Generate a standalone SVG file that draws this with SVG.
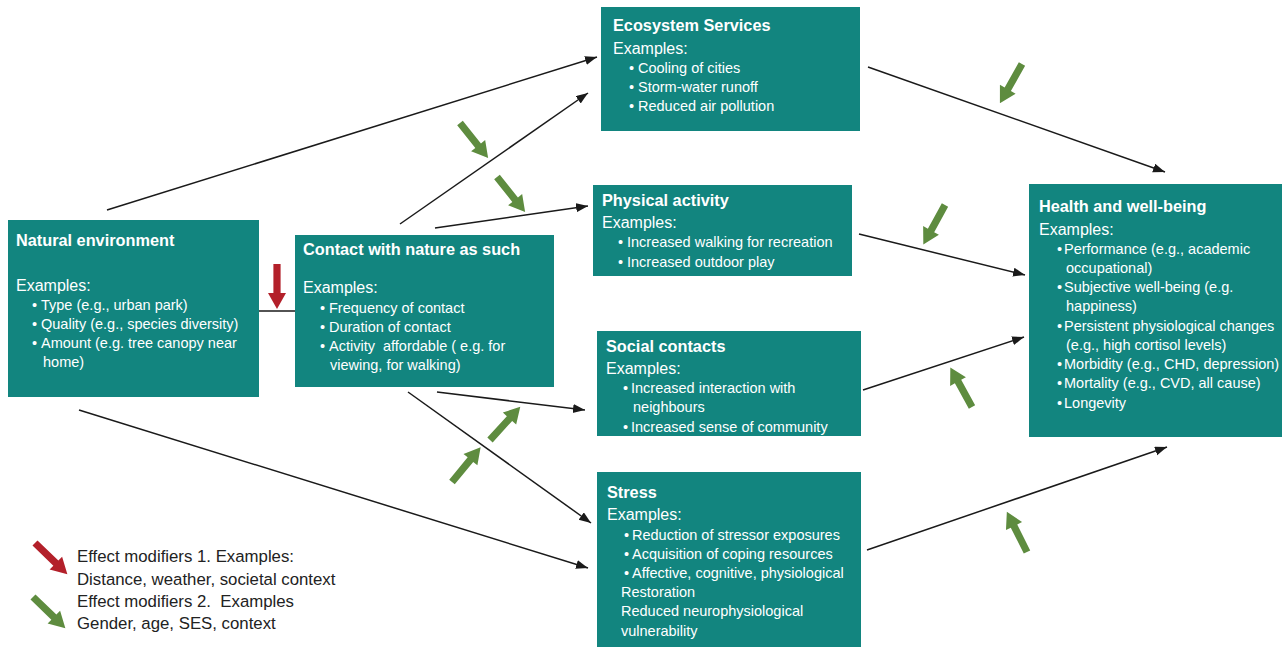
<svg xmlns="http://www.w3.org/2000/svg" width="1282" height="647" viewBox="0 0 1282 647">
<style>
.box{fill:#12857f;}
text{font-family:"Liberation Sans","Open Sans",Arial,sans-serif;fill:#ffffff;}
.t{font-size:16.3px;font-weight:bold;}
.e{font-size:16px;}
.b{font-size:14.5px;}
.lg{font-size:16.8px;fill:#222222;}
.c{stroke:#1a1a1a;stroke-width:1.5;fill:none;}
.ca{stroke:#1a1a1a;stroke-width:1.5;fill:none;marker-end:url(#ah);}
.g{fill:#5e8c3f;}
.r{fill:#b3202a;}
</style>
<defs>
<marker id="ah" markerUnits="userSpaceOnUse" markerWidth="13" markerHeight="10" refX="12" refY="4.5" orient="auto">
<path d="M0,0 L12,4.5 L0,9 z" fill="#1a1a1a"/>
</marker>
<path id="mod" d="M0,-3.6 L29,-3.6 L29,-9 L45,0 L29,9 L29,3.6 L0,3.6 z"/>
</defs>

<g id="connectors">
<line class="ca" x1="107" y1="210" x2="597" y2="57"/>
<line class="ca" x1="400" y1="224" x2="588" y2="93"/>
<line class="ca" x1="435" y1="228" x2="588" y2="206"/>
<line class="c" x1="259" y1="311" x2="295" y2="311"/>
<line class="ca" x1="437" y1="392" x2="585" y2="410"/>
<line class="ca" x1="408" y1="392" x2="591" y2="523"/>
<line class="ca" x1="79" y1="410" x2="588" y2="568"/>
<line class="ca" x1="868" y1="67" x2="1165" y2="172"/>
<line class="ca" x1="859" y1="234" x2="1025" y2="275"/>
<line class="ca" x1="863" y1="390" x2="1024" y2="337"/>
<line class="ca" x1="867" y1="550" x2="1167" y2="447"/>
</g>

<g id="modifiers">
<use href="#mod" class="r" transform="translate(277,264) rotate(90)"/>
<use href="#mod" class="g" transform="translate(460,123) rotate(51.3)"/>
<use href="#mod" class="g" transform="translate(497,177) rotate(51.3)"/>
<use href="#mod" class="g" transform="translate(1022,64) rotate(119.4)"/>
<use href="#mod" class="g" transform="translate(945,205) rotate(118.8)"/>
<use href="#mod" class="g" transform="translate(972,407) rotate(-118.8)"/>
<use href="#mod" class="g" transform="translate(1027,552) rotate(-116.6)"/>
<use href="#mod" class="g" transform="translate(452,482) rotate(-50.5)"/>
<use href="#mod" class="g" transform="translate(490,440) rotate(-47.7)"/>
</g>

<g id="natural-environment">
<rect class="box" x="8" y="220" width="251" height="177"/>
<text class="t" x="16" y="246">Natural environment</text>
<text class="e" x="16" y="291">Examples:</text>
<text class="b" x="32" y="310">•</text><text class="b" x="41" y="310">Type (e.g., urban park)</text>
<text class="b" x="32" y="329">•</text><text class="b" x="41" y="329">Quality (e.g., species diversity)</text>
<text class="b" x="32" y="348">•</text><text class="b" x="41" y="348">Amount (e.g. tree canopy near</text>
<text class="b" x="43" y="367">home)</text>
</g>

<g id="contact-with-nature">
<rect class="box" x="295" y="235" width="259" height="152"/>
<text class="t" x="303" y="255">Contact with nature as such</text>
<text class="e" x="303" y="293">Examples:</text>
<text class="b" x="320" y="313">•</text><text class="b" x="329" y="313">Frequency of contact</text>
<text class="b" x="320" y="332">•</text><text class="b" x="329" y="332">Duration of contact</text>
<text class="b" x="320" y="351">•</text><text class="b" x="329" y="351">Activity&#160; affordable ( e.g. for</text>
<text class="b" x="330" y="370">viewing, for walking)</text>
</g>

<g id="ecosystem-services">
<rect class="box" x="601" y="7" width="259" height="124"/>
<text class="t" x="613" y="31">Ecosystem Services</text>
<text class="e" x="613" y="54">Examples:</text>
<text class="b" x="629" y="73">•</text><text class="b" x="638" y="73">Cooling of cities</text>
<text class="b" x="629" y="92">•</text><text class="b" x="638" y="92">Storm-water runoff</text>
<text class="b" x="629" y="111">•</text><text class="b" x="638" y="111">Reduced air pollution</text>
</g>

<g id="physical-activity">
<rect class="box" x="593" y="185" width="259" height="91"/>
<text class="t" x="602" y="206">Physical activity</text>
<text class="e" x="602" y="228">Examples:</text>
<text class="b" x="618" y="247">•</text><text class="b" x="627" y="247">Increased walking for recreation</text>
<text class="b" x="618" y="267">•</text><text class="b" x="627" y="267">Increased outdoor play</text>
</g>

<g id="social-contacts">
<rect class="box" x="597" y="331" width="264" height="105"/>
<text class="t" x="606" y="352">Social contacts</text>
<text class="e" x="606" y="374">Examples:</text>
<text class="b" x="623" y="393">•</text><text class="b" x="631" y="393">Increased interaction with</text>
<text class="b" x="633" y="412">neighbours</text>
<text class="b" x="623" y="432">•</text><text class="b" x="631" y="432">Increased sense of community</text>
</g>

<g id="stress">
<rect class="box" x="597" y="472" width="264" height="175"/>
<text class="t" x="607" y="498">Stress</text>
<text class="e" x="607" y="520">Examples:</text>
<text class="b" x="624" y="540">•</text><text class="b" x="632" y="540">Reduction of stressor exposures</text>
<text class="b" x="624" y="559">•</text><text class="b" x="632" y="559">Acquisition of coping resources</text>
<text class="b" x="624" y="578">•</text><text class="b" x="632" y="578">Affective, cognitive, physiological</text>
<text class="b" x="621" y="597">Restoration</text>
<text class="b" x="621" y="616">Reduced neurophysiological</text>
<text class="b" x="621" y="636">vulnerability</text>
</g>

<g id="health-well-being">
<rect class="box" x="1029" y="184" width="253" height="253"/>
<text class="t" x="1039" y="212">Health and well-being</text>
<text class="e" x="1039" y="235">Examples:</text>
<text class="b" x="1057" y="254">•</text><text class="b" x="1064" y="254">Performance (e.g., academic</text>
<text class="b" x="1066" y="273">occupational)</text>
<text class="b" x="1057" y="292">•</text><text class="b" x="1064" y="292">Subjective well-being (e.g.</text>
<text class="b" x="1066" y="311">happiness)</text>
<text class="b" x="1057" y="331">•</text><text class="b" x="1064" y="331">Persistent physiological changes</text>
<text class="b" x="1066" y="350">(e.g., high cortisol levels)</text>
<text class="b" x="1057" y="369">•</text><text class="b" x="1064" y="369">Morbidity (e.g., CHD, depression)</text>
<text class="b" x="1057" y="388">•</text><text class="b" x="1064" y="388">Mortality (e.g., CVD, all cause)</text>
<text class="b" x="1057" y="408">•</text><text class="b" x="1064" y="408">Longevity</text>
</g>

<g id="legend">
<use href="#mod" class="r" transform="translate(35,543) rotate(44)"/>
<use href="#mod" class="g" transform="translate(33,597) rotate(44)"/>
<text class="lg" x="77" y="562">Effect modifiers 1. Examples:</text>
<text class="lg" x="77" y="585">Distance, weather, societal context</text>
<text class="lg" x="77" y="607">Effect modifiers 2.&#160; Examples</text>
<text class="lg" x="77" y="629">Gender, age, SES, context</text>
</g>
</svg>
